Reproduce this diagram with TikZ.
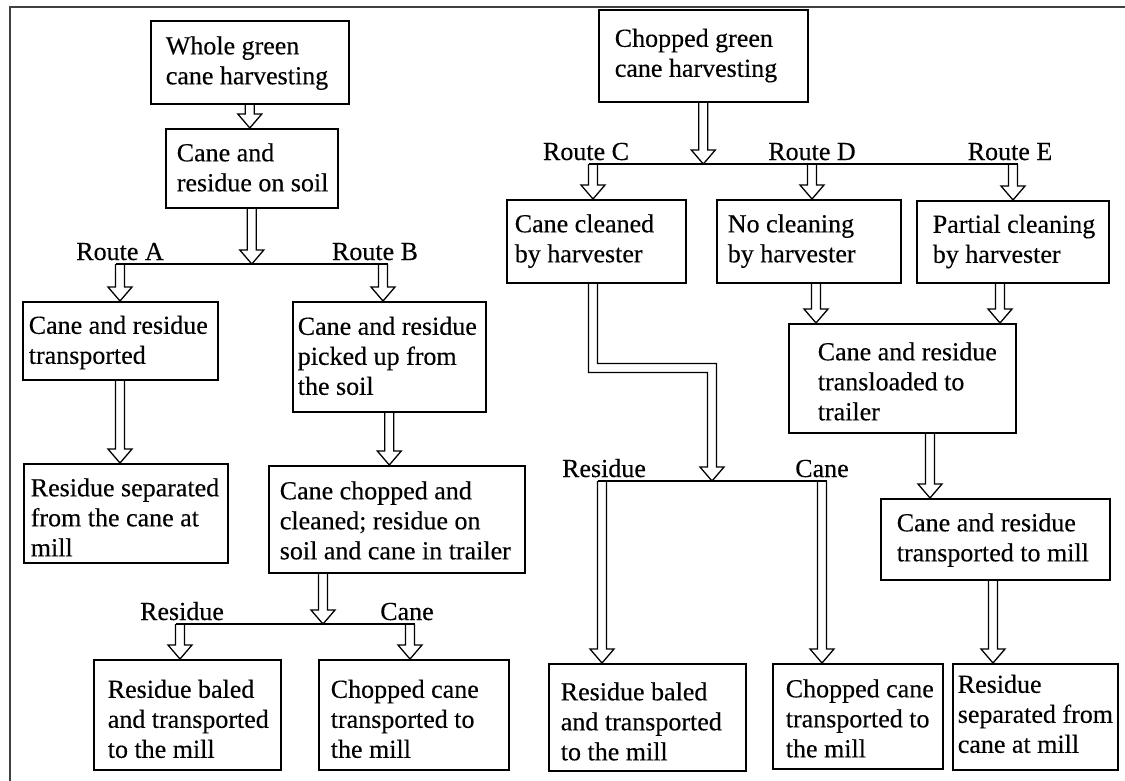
\documentclass[tikz,border=0pt]{standalone}
\usepackage{fontspec}
\setmainfont{Liberation Serif}[FakeBold=0.3]
\usetikzlibrary{calc}

\tikzset{
  flowbox/.style={draw, line width=1.6pt, rectangle, anchor=north west,
    inner xsep=0pt, inner ysep=0pt,
    font=\fontsize{26}{30}\selectfont},
  hollow/.style={draw, line width=1.3pt, line join=miter},
  splitline/.style={draw, line width=1.3pt},
  routelabel/.style={anchor=base, inner sep=0pt,
    font=\fontsize{26}{30}\selectfont},
  frameline/.style={draw=black!75, line width=2.5pt},
}

% box: name, x, y (top left), width, height, left padding, text lowered by #8
\newcommand\flowbox[8]{%
  \node[flowbox, minimum height=#5pt] (#1) at (#2,#3)
    {\hbox to #4pt{\hspace*{#6pt}%
      \raisebox{0pt}[\dimexpr\height+#8pt\relax][\dimexpr\depth-#8pt\relax]%
        {\begin{tabular}{@{}l@{}}#7\end{tabular}}\hss}};}

% hollow downward arrow from point #1 to tip at the height of #2
\newcommand\hdown[2]{%
  \draw[hollow] let \p1=#1, \p2=#2 in
    (\x1-4.5pt,\y1) -- (\x1-4.5pt,\y2+14pt) -- (\x1-12pt,\y2+14pt)
    -- (\x1,\y2) -- (\x1+12pt,\y2+14pt) -- (\x1+4.5pt,\y2+14pt)
    -- (\x1+4.5pt,\y1);}

% hollow arrow that goes down, sideways at the level of #2, then down to #3
\newcommand\hbent[3]{%
  \draw[hollow] let \p1=#1, \p2=#3, \p3=#2 in
    (\x1-4.5pt,\y1) -- (\x1-4.5pt,\y3-4.5pt) -- (\x2-4.5pt,\y3-4.5pt)
    -- (\x2-4.5pt,\y2+14pt) -- (\x2-12pt,\y2+14pt) -- (\x2,\y2)
    -- (\x2+12pt,\y2+14pt) -- (\x2+4.5pt,\y2+14pt)
    -- (\x2+4.5pt,\y3+4.5pt) -- (\x1+4.5pt,\y3+4.5pt) -- (\x1+4.5pt,\y1);}

\begin{document}
\begin{tikzpicture}[x=1pt,y=-1pt]
\useasboundingbox (0,0) rectangle (1125,780);
\draw[frameline] (10,782) -- (10,7) -- (1127,7);

% ---------------- whole green cane harvesting ----------------
\flowbox{whole}{150}{20}{198}{83}{15}{Whole green\\cane harvesting}{1}
\flowbox{soil}{165}{128}{172}{79}{11}{Cane and\\residue on soil}{2}
\flowbox{ta}{22}{301}{195}{78}{6}{Cane and residue\\transported}{2}
\flowbox{sepA}{23}{463}{204}{99}{7}{Residue separated\\from the cane at\\mill}{7}
\flowbox{pick}{292}{301}{193}{110}{5}{Cane and residue\\picked up from\\the soil}{2}
\flowbox{chop}{268}{465}{256}{107}{11}{Cane chopped and\\cleaned; residue on\\soil and cane in trailer}{4}
\flowbox{baleL}{93}{659}{187}{110}{14}{Residue baled\\and transported\\to the mill}{7}
\flowbox{chopL}{318}{659}{190}{110}{12}{Chopped cane\\transported to\\the mill}{7}

\coordinate (jA) at (251,264);
\coordinate (rA) at (120,264);
\coordinate (rB) at (383,264);
\coordinate (jB) at (323,624);
\coordinate (rRes) at (180,624);
\coordinate (rCane) at (410,624);

\draw[splitline] ($(rA)+(-4.5,0)$) -- ($(rB)+(4.5,0)$);
\draw[splitline] ($(rRes)+(-4.5,0)$) -- ($(rCane)+(4.5,0)$);

\node[routelabel] (labA) at (120,260) {Route A};
\node[routelabel] (labB) at (375,260) {Route B};
\node[routelabel] (labResL) at (182,620) {Residue};
\node[routelabel] (labCaneL) at (407,620) {Cane};

\hdown{(whole.south)}{(whole.south |- soil.north)}
\hdown{(soil.south)}{(jA)}
\hdown{(rA)}{(rA |- ta.north)}
\hdown{(rB)}{(rB |- pick.north)}
\hdown{(ta.south -| rA)}{(rA |- sepA.north)}
\hdown{(pick.south)}{(pick.south |- chop.north)}
\hdown{(chop.south -| jB)}{(jB)}
\hdown{(rRes)}{(rRes |- baleL.north)}
\hdown{(rCane)}{(rCane |- chopL.north)}

% ---------------- chopped green cane harvesting ----------------
\flowbox{green}{598}{9}{209}{92}{16}{Chopped green\\cane harvesting}{0}
\flowbox{cc}{506}{199}{179}{83}{8}{Cane cleaned\\by harvester}{0}
\flowbox{nc}{716}{199}{184}{83}{11}{No cleaning\\by harvester}{0}
\flowbox{pc}{916}{200}{192}{82}{16}{Partial cleaning\\by harvester}{0}
\flowbox{trl}{788}{323}{227}{109}{29}{Cane and residue\\transloaded to\\trailer}{6}
\flowbox{trm}{880}{498}{229}{81}{16}{Cane and residue\\transported to mill}{1}
\flowbox{sepR}{952}{663}{165}{106}{5}{Residue\\separated from\\cane at mill}{0}
\flowbox{baleR}{548}{663}{197}{107}{12}{Residue baled\\and transported\\to the mill}{7}
\flowbox{chopR}{772}{663}{170}{105}{13}{Chopped cane\\transported to\\the mill}{5}

\coordinate (jC) at (703,164);
\coordinate (rC) at (593,164);
\coordinate (rD) at (812,164);
\coordinate (rE) at (1013,164);
\coordinate (xC) at (593,290);
\coordinate (xD) at (816,300);
\coordinate (xE) at (1000,300);
\coordinate (xT) at (930,450);
\coordinate (xM) at (993,600);
\coordinate (cbend) at (650,368);
\coordinate (jR) at (712,481);
\coordinate (rR1) at (602,481);
\coordinate (rR2) at (822,481);

\draw[splitline] ($(rC)+(-4.5,0)$) -- ($(rE)+(4.5,0)$);
\draw[splitline] ($(rR1)+(-4.5,0)$) -- ($(rR2)+(4.5,0)$);

\node[routelabel] (labC) at (586,160) {Route C};
\node[routelabel] (labD) at (812,160) {Route D};
\node[routelabel] (labE) at (1010,160) {Route E};
\node[routelabel] (labResR) at (604,477) {Residue};
\node[routelabel] (labCaneR) at (822,477) {Cane};

\hdown{(green.south)}{(jC)}
\hdown{(rC)}{(rC |- cc.north)}
\hdown{(rD)}{(rD |- nc.north)}
\hdown{(rE)}{(rE |- pc.north)}
\hdown{(nc.south -| xD)}{(xD |- trl.north)}
\hdown{(pc.south -| xE)}{(xE |- trl.north)}
\hdown{(trl.south -| xT)}{(xT |- trm.north)}
\hdown{(trm.south -| xM)}{(xM |- sepR.north)}
\hbent{(cc.south -| xC)}{(cbend)}{(jR)}
\hdown{(rR1)}{(rR1 |- baleR.north)}
\hdown{(rR2)}{(rR2 |- chopR.north)}
\end{tikzpicture}
\end{document}
